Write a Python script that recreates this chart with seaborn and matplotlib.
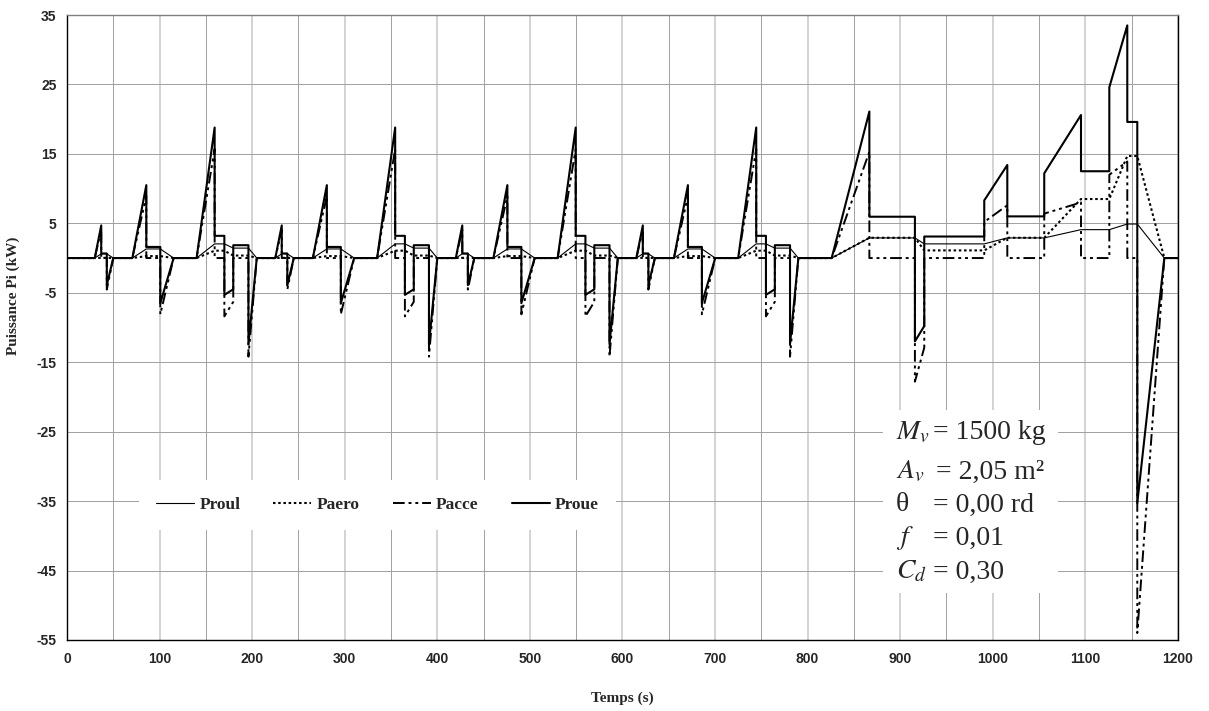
import numpy as np
import pandas as pd
import seaborn as sns
import matplotlib.pyplot as plt
from matplotlib.patches import Rectangle
from matplotlib.ticker import MultipleLocator, FixedLocator

sns.set_style("white")
plt.rcParams['font.family'] = ['Liberation Serif', 'DejaVu Serif']
plt.rcParams['mathtext.fontset'] = 'stix'
plt.rcParams['axes.unicode_minus'] = False

# Cycle urbain (ECE), temps relatifs au début du cycle (s) et puissances (kW)
ece_t = [30, 37, 37, 43, 43, 50, 70.6, 85.7, 85.7, 100.8, 100.8, 115.2,
         140, 159.5, 159.5, 170, 170, 179.6, 179.6, 196, 196, 205]
ece_proue = [0, 4.7, 0.66, 0.66, -3.9, 0, 0, 10.5, 1.6, 1.6, -6.5, 0,
             0, 18.8, 3.2, 3.2, -5.3, -4.5, 1.85, 1.85, -12.4, 0]
ece_proul = [0, 0.61, 0.61, 0.61, 0.61, 0, 0, 1.31, 1.31, 1.31, 1.31, 0,
             0, 2.04, 2.04, 2.04, 2.04, 1.43, 1.43, 1.43, 1.43, 0]
ece_paero = [0, 0.03, 0.03, 0.03, 0.03, 0, 0, 0.28, 0.28, 0.28, 0.28, 0,
             0, 1.06, 1.06, 1.06, 1.06, 0.36, 0.36, 0.36, 0.36, 0]
ece_pacce = [0, 4.06, 0, 0, -4.54, 0, 0, 8.9, 0, 0, -8.1, 0,
             0, 15.7, 0, 0, -8.4, -6.3, 0, 0, -14.2, 0]
ece_debuts = [0, 195, 390, 585]

# Cycle extra-urbain (EUDC)
eudc_t = [826, 866.7, 866.7, 915.9, 915.9, 926, 926, 990.8, 990.8, 1015.7,
          1015.7, 1055.6, 1055.6, 1095.3, 1095.3, 1125.9, 1125.9, 1145.3,
          1145.3, 1156.1, 1156.1, 1185.3, 1200]
eudc_proue = [0, 21.1, 5.95, 5.95, -12.0, -9.8, 3.1, 3.1, 8.3, 13.4,
              6.0, 6.0, 12.2, 20.6, 12.5, 12.5, 24.6, 33.5,
              19.6, 19.6, -35.3, 0, 0]
eudc_proul = [0, 2.9, 2.9, 2.9, 2.9, 2.04, 2.04, 2.04, 2.04, 2.9,
              2.9, 2.9, 2.9, 4.09, 4.09, 4.09, 4.09, 4.9,
              4.9, 4.9, 4.9, 0, 0]
eudc_paero = [0, 2.92, 2.92, 2.92, 2.92, 1.1, 1.1, 1.1, 1.1, 2.92,
              2.92, 2.92, 2.92, 8.5, 8.5, 8.5, 8.5, 14.7,
              14.7, 14.7, 14.7, 0, 0]
eudc_pacce = [0, 15.3, 0, 0, -17.8, -12.9, 0, 0, 5.2, 7.6,
              0, 0, 6.4, 8.0, 0, 0, 12.0, 13.9,
              0, 0, -54.0, 0, 0]

noms = ["Proul", "Paero", "Pacce", "Proue"]


def serie(ece_vals, eudc_vals):
    t, p = [0.0], [0.0]
    for d in ece_debuts:
        t += [x + d for x in ece_t]
        p += ece_vals
    return t + eudc_t, p + eudc_vals


valeurs = {
    "Proul": serie(ece_proul, eudc_proul),
    "Paero": serie(ece_paero, eudc_paero),
    "Pacce": serie(ece_pacce, eudc_pacce),
    "Proue": serie(ece_proue, eudc_proue),
}
rows = []
for nom in noms:
    t, p = valeurs[nom]
    rows += [(nom, a, b) for a, b in zip(t, p)]
df = pd.DataFrame(rows, columns=["serie", "temps", "puissance"])

styles = {
    "Proul": dict(lw=0.8, ls="-"),
    "Paero": dict(lw=1.5, ls=(0, (1.2, 1.3))),
    "Pacce": dict(lw=1.4, ls=(0, (6, 2, 1.5, 2, 1.5, 2))),
    "Proue": dict(lw=1.5, ls="-"),
}

fig = plt.figure(figsize=(12.09, 7.11), dpi=100)
ax = fig.add_axes([0.0554, 0.0999, 0.9189, 0.879])

for nom in noms:
    sns.lineplot(data=df[df["serie"] == nom], x="temps", y="puissance",
                 estimator=None, sort=False, color="black", label=nom,
                 legend=False, ax=ax, **styles[nom])

ax.set_xlim(0, 1200)
ax.set_ylim(-55, 35)
ax.xaxis.set_major_locator(MultipleLocator(100))
ax.xaxis.set_minor_locator(MultipleLocator(50))
ax.yaxis.set_major_locator(FixedLocator(np.arange(-55, 36, 10)))
ax.yaxis.set_minor_locator(FixedLocator(np.arange(-55, 36, 2)))
ax.set_axisbelow(True)
ax.grid(which="major", axis="x", color="#c8c8c8", lw=1.1)
ax.grid(which="minor", axis="x", color="#a0a0a0", lw=0.7)
ax.grid(which="major", axis="y", color="#a0a0a0", lw=0.7)
ax.tick_params(which="major", direction="out", length=4, width=0.8, color="black")
ax.tick_params(axis="x", which="major", pad=5)
ax.tick_params(axis="y", which="minor", direction="in", length=4, width=0.8, color="black")
ax.tick_params(axis="x", which="minor", length=0)
for s in ax.spines.values():
    s.set_color("black")
    s.set_linewidth(1.0)
ax.spines["top"].set_color("#808080")

for lab in ax.get_xticklabels() + ax.get_yticklabels():
    lab.set_fontfamily("Liberation Sans")
    lab.set_fontweight("bold")
    lab.set_fontsize(10)

ax.set_xlabel("Temps (s)", fontsize=11, fontweight="bold")
ax.set_ylabel("Puissance Pi (kW)", fontsize=11, fontweight="bold")
ax.xaxis.set_label_coords(0.5, -0.082)
ax.yaxis.set_label_coords(-0.042, 0.55)

leg = ax.legend(handles=ax.lines[:4], labels=noms, loc="center",
                bbox_to_anchor=(0.2795, 0.216), ncol=4,
                prop={"family": "Liberation Serif", "weight": "bold", "size": 12.5},
                handlelength=2.2, handletextpad=0.3, columnspacing=1.9,
                borderpad=1.0, frameon=True, fancybox=False, framealpha=1)
leg.get_frame().set_facecolor("white")
leg.get_frame().set_edgecolor("none")

# cadre blanc des paramètres du véhicule
ax.add_patch(Rectangle((0.7345, 0.0752), 0.1575, 0.2928, transform=ax.transAxes,
                       facecolor="white", edgecolor="none", zorder=1))
symboles = [r"$M_v$", r"$A_v$", "θ", r"$f$", r"$C_d$"]
textes = ["= 1500 kg", "= 2,05 m²", "= 0,00 rd", "= 0,01", "= 0,30"]
positions_eq = [0.7795, 0.7822, 0.7795, 0.7795, 0.7795]
lignes_y = [0.3312, 0.2688, 0.216, 0.1632, 0.1088]
for sym, txt, xe, y in zip(symboles, textes, positions_eq, lignes_y):
    ax.text(0.7462, y, sym, transform=ax.transAxes, fontsize=20,
            va="center", ha="left", zorder=3)
    ax.text(xe, y, txt, transform=ax.transAxes, fontsize=20,
            va="center", ha="left", zorder=3)

fig.savefig("out.png", dpi=100)
